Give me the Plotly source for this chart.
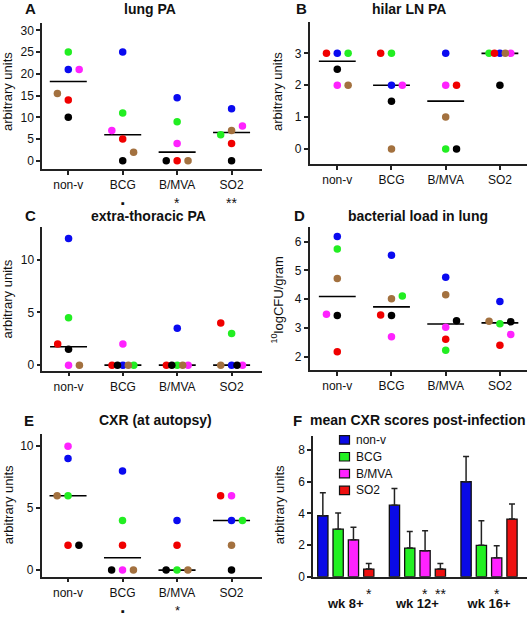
import numpy as np
import plotly.graph_objects as go

# ---------------- data ----------------
GROUPS = ["non-v", "BCG", "B/MVA", "SO2"]
# animal order inside each group: blue, green, magenta, red, brown, black
LUNG_PA = [[21, 25, 21, 14, 15.5, 10],
           [25, 11, 7, 5, 2, 0],
           [14.5, 9, 4, 0, 0, 0],
           [12, 6, 8, 4, 7, 0]]
HILAR_LN_PA = [[3, 3, 2, 3, 2, 2.5],
               [2, 3, 2, 3, 0, 1.5],
               [3, 0, 2, 2, 1, 0],
               [3, 3, 3, 3, 3, 2]]
EXTRA_THORACIC_PA = [[12, 4.5, 0, 2, 0, 1.5],
                     [0, 0, 2, 0, 0, 0],
                     [3.5, 0, 0, 0, 0, 0],
                     [0, 3, 0, 4, 0, 0]]
LUNG_LOG_CFU = [[6.18, 5.75, 3.47, 2.17, 4.72, 3.43],
                [5.53, 4.11, 2.69, 3.45, 4.01, 3.43],
                [4.76, 2.22, 3.02, 2.60, 4.15, 3.25],
                [3.92, 3.14, 2.77, 2.39, 3.23, 3.21]]
CXR_AUTOPSY = [[9, 6, 10, 2, 6, 2],
               [8, 4, 0, 2, 0, 0],
               [4, 0, None, 2, 0, 0],
               [4, 4, 6, 6, 2, 0]]
SIG_LUNG_PA = ["", "\u25aa", "*", "**"]
SIG_CXR_AUTOPSY = ["", "\u25aa", "*", ""]

WEEKS = ["wk 8+", "wk 12+", "wk 16+"]
CXR_MEAN = {"non-v": [3.85, 4.52, 6.00],
            "BCG": [3.00, 1.81, 1.98],
            "B/MVA": [2.33, 1.64, 1.19],
            "SO2": [0.48, 0.48, 3.64]}
CXR_SEM = {"non-v": [1.45, 1.05, 1.60],
           "BCG": [1.02, 1.04, 1.55],
           "B/MVA": [0.80, 1.27, 0.77],
           "SO2": [0.35, 0.35, 0.96]}
CXR_SIG = {"B/MVA": ["", "*", "*"], "SO2": ["*", "**", ""]}

# ---------------- positions (jitter, in dot steps) ----------------
JIT_LUNG = [[0, 0, 1, 0, -1, 0], [0, 0, -1, 0, 1, 0], [0, 0, 0, 0, 1, -1], [0, -1, 1, 0, 0, 0]]
JIT_HILAR = [[0, 1, 0, -1, 1, 0], [0, 0, 1, -1, 0, 0], [0, 0, 0, 1, 0, 1], [0, -1, 1, -0.5, 0.5, 0]]
JIT_EXTRA = [[0, 0, 0, -1, 1, 0], [0, 1, 0, -1, 0.5, -0.5], [0, 0, 1, -1, 0.5, -0.5], [0, 0, 1, -1, -1, 0.5]]
JIT_CFU = [[0, 0, -1, 0, 0, 0], [0, 1, 0, -1, 0, 0], [0, 0, 0, 0, 0, 1], [0, 0, 1, 0, -1, 1]]
JIT_CXR = [[0, 0, 0, 0, -1, 1], [0, 0, 0, 0, 1, -1], [0, 0, 0, 0, 1, -1], [0, 1, 0, -1, 0, 0]]

# ---------------- style ----------------
FONT = "Liberation Sans, Arial, Helvetica, sans-serif"
DOT_COLORS = ["#0a0af0", "#22ee22", "#ff22ff", "#f00000", "#a3713f", "#000000"]
BAR_COLORS = {"non-v": "#0a0ae6", "BCG": "#22f022", "B/MVA": "#ff22ff", "SO2": "#ee1010"}
AX = "#222222"
W, H = 529, 617
STEP = 0.2
HALF = 0.34


def fx(p):
    return p / W


def fy(p):
    return 1 - p / H


fig = go.Figure()
layout = dict(width=W, height=H, margin=dict(l=0, r=0, t=0, b=0),
              paper_bgcolor="white", plot_bgcolor="white", showlegend=False,
              font=dict(family=FONT, color="#111"))
annotations = []
shapes = []


def axis_common():
    return dict(showline=True, linecolor=AX, linewidth=1.5, ticks="outside", ticklen=4,
                tickwidth=1.5, tickcolor=AX, showgrid=False, zeroline=False,
                tickfont=dict(family=FONT, size=12, color="#111"))


def note(x, y, text, size, xref="paper", angle=0, xanchor="center"):
    annotations.append(dict(x=x, y=y, xref=xref, yref="paper", text=text, showarrow=False,
                            textangle=angle, xanchor=xanchor, yanchor="middle",
                            font=dict(family=FONT, size=size, color="#111")))


panels = [
    # idx, data, jitter, xdom(px), ydom(top,bottom px), xrange, yrange, yticks, letter, lx, title, tx, ty, ylabel, ylx, yly
    (1, LUNG_PA, JIT_LUNG, (42, 261.5), (23, 170.7), (-0.483, 3.55), (-1.82, 31.75), [0, 5, 10, 15, 20, 25, 30],
     "A", 30, "lung PA", 150, 9, "arbitrary units", 8, 93),
    (2, HILAR_LN_PA, JIT_HILAR, (309.7, 527), (22.7, 166), (-0.509, 3.5), (-0.475, 3.97), [0, 1, 2, 3],
     "B", 301, "hilar LN PA", 409, 9, "arbitrary units", 278, 93),
    (3, EXTRA_THORACIC_PA, JIT_EXTRA, (42.3, 261.5), (230, 375), (-0.483, 3.55), (-0.53, 13.05), [0, 5, 10],
     "C", 30, "extra-thoracic PA", 148, 218, "arbitrary units", 8, 303),
    (4, LUNG_LOG_CFU, JIT_CFU, (309.7, 527), (230, 374.3), (-0.509, 3.5), (1.53, 6.5), [2, 3, 4, 5, 6],
     "D", 299, "bacterial load in lung", 418, 218, "<sup>10</sup>logCFU/gram", 277, 304),
    (5, CXR_AUTOPSY, JIT_CXR, (41.7, 261.5), (439.3, 583.3), (-0.483, 3.55), (-0.53, 10.96), [0, 5, 10],
     "E", 29, "CXR (at autopsy)", 155, 425, "arbitrary units", 8, 511),
]

for (i, data, jit, xd, yd, xr, yr, yt, letter, lx, title, tx, ty, ylab, ylx, yly) in panels:
    xa = "x" if i == 1 else f"x{i}"
    ya = "y" if i == 1 else f"y{i}"
    xkey = "xaxis" if i == 1 else f"xaxis{i}"
    ykey = "yaxis" if i == 1 else f"yaxis{i}"
    xax = axis_common()
    xax.update(domain=[fx(xd[0]), fx(xd[1])], range=list(xr), anchor=ya,
               tickmode="array", tickvals=list(range(len(GROUPS))), ticktext=GROUPS)
    yax = axis_common()
    yax.update(domain=[fy(yd[1]), fy(yd[0])], range=list(yr), anchor=xa,
               tickmode="array", tickvals=yt)
    layout[xkey] = xax
    layout[ykey] = yax

    # medians
    mx, my = [], []
    for g, vals in enumerate(data):
        arr = np.array([np.nan if v is None else v for v in vals], dtype=float)
        m = float(np.nanmedian(arr))
        mx += [g - HALF, g + HALF, None]
        my += [m, m, None]
    fig.add_trace(go.Scatter(x=mx, y=my, mode="lines", line=dict(color="black", width=1.6),
                             xaxis=xa, yaxis=ya, hoverinfo="skip"))
    # dots, one trace per animal colour
    for c, col in enumerate(DOT_COLORS):
        xs = [g + jit[g][c] * STEP for g in range(len(GROUPS))]
        ys = [data[g][c] for g in range(len(GROUPS))]
        fig.add_trace(go.Scatter(x=xs, y=ys, mode="markers",
                                 marker=dict(color=col, size=7.5, line=dict(width=0)),
                                 xaxis=xa, yaxis=ya))
    note(fx(lx), fy(ty), f"<b>{letter}</b>", 15)
    note(fx(tx), fy(ty), f"<b>{title}</b>", 14)
    note(fx(ylx), fy(yly), ylab, 13, angle=-90)

# significance markers under dot plots
for g, s in enumerate(SIG_LUNG_PA):
    if s:
        note(g, fy(205), s, 11 if s == "\u25aa" else 14, xref="x")
for g, s in enumerate(SIG_CXR_AUTOPSY):
    if s:
        note(g, fy(618), s, 11 if s == "\u25aa" else 13, xref="x5")

# ---------------- panel F: bars ----------------
BARGAP = 0.145
names = list(CXR_MEAN.keys())
for n in names:
    fig.add_trace(go.Bar(x=list(range(len(WEEKS))), y=CXR_MEAN[n], name=n,
                         marker=dict(color=BAR_COLORS[n], line=dict(color="#111", width=1.3)),
                         error_y=dict(type="data", array=CXR_SEM[n], arrayminus=[0] * len(WEEKS),
                                      symmetric=False, color="#222", thickness=1.5, width=3),
                         xaxis="x6", yaxis="y6"))
xf = axis_common()
xf.update(domain=[fx(313), fx(527)], range=[-0.458, 2.53], anchor="y6", ticks="",
          tickmode="array", tickvals=list(range(len(WEEKS))), ticktext=[f"<b>{w}</b>" for w in WEEKS],
          tickfont=dict(family=FONT, size=13, color="#111"), ticklabelstandoff=14)
yf = axis_common()
yf.update(domain=[fy(583.3), fy(440.7)], range=[0, 8.91], anchor="x6", tickmode="array",
          tickvals=[0, 2, 4, 6, 8])
layout["xaxis6"] = xf
layout["yaxis6"] = yf
layout["barmode"] = "group"
layout["bargap"] = BARGAP
layout["bargroupgap"] = 0.33

slot = (1 - BARGAP) / len(names)
for k, n in enumerate(names):
    if n in CXR_SIG:
        off = -(1 - BARGAP) / 2 + slot * (k + 0.5)
        for w, s in enumerate(CXR_SIG[n]):
            if s:
                note(w + off, fy(601), s, 14, xref="x6")

note(fx(297), fy(425), "<b>F</b>", 15)
note(fx(418), fy(425), "<b>mean CXR scores post-infection</b>", 14)
note(fx(279), fy(511), "arbitrary units", 13, angle=-90)

# legend for panel F (custom)
rows = [445, 462, 479, 496]
for n, ry in zip(names, rows):
    shapes.append(dict(type="rect", xref="paper", yref="paper", x0=fx(339.5), x1=fx(349.5),
                       y0=fy(ry + 4.3), y1=fy(ry - 4.3), fillcolor=BAR_COLORS[n],
                       line=dict(color="#111", width=1.2)))
    note(fx(354), fy(ry), n, 12, xanchor="left")

layout["annotations"] = annotations
layout["shapes"] = shapes
fig.update_layout(**layout)
fig.write_html("out.html", config={"displayModeBar": False})

# remove the browser's default page margin so the figure sits at the window origin
with open("out.html", encoding="utf-8") as f:
    html = f.read()
html = html.replace("<body>", '<body style="margin:0;padding:0;overflow:hidden;">', 1)
with open("out.html", "w", encoding="utf-8") as f:
    f.write(html)
